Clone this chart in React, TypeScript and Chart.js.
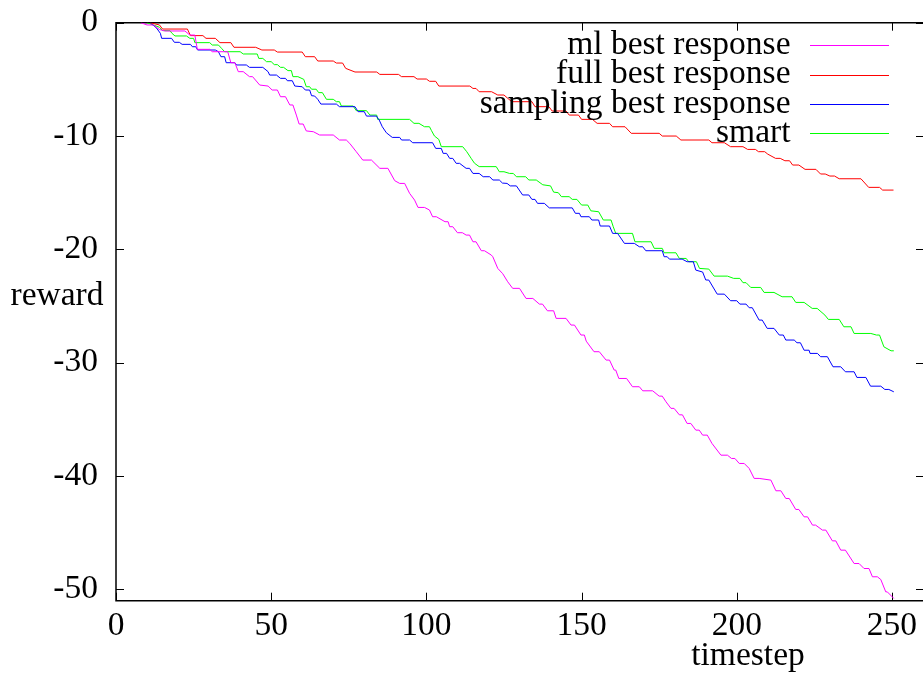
import React, { useEffect, useRef } from "react";
import { Chart, registerables } from "chart.js";
Chart.register(...registerables);

// ---- data ----
const mlX = [8, 10, 12, 14, 15.8, 22.2, 23.8, 25.4, 26.2, 30.2, 31, 36, 37, 38.3, 39.4, 41, 43, 44, 46.3, 49, 50.3, 52, 53, 54.6, 56, 57, 58.1, 59, 60.3, 61.3, 63.6, 65.6, 70, 72, 74.2, 75.3, 77.4, 79.5, 82.3, 85, 87.6, 89.8, 91.4, 93, 94.6, 96.2, 97.3, 99.4, 101, 102, 103.2, 106, 107, 107.5, 108.5, 110, 111.6, 112.8, 113.9, 115, 116, 117.7, 118.7, 120.9, 121.4, 123, 124.6, 126.2, 127.8, 130, 132.1, 134.3, 136.4, 137.4, 139, 141, 141.8, 145, 146.6, 147.7, 149.8, 150.9, 151.5, 154, 155.7, 157.9, 159, 160.5, 161, 162, 164.5, 166.4, 168.6, 169.7, 172.9, 175, 176, 177.2, 178.8, 179.8, 181.5, 182.5, 184, 185.2, 186.8, 187.9, 189, 190.5, 192, 194.9, 197, 198.3, 199.4, 200.8, 202.4, 204, 205.6, 207.2, 211, 212.6, 214.2, 215.8, 216.9, 219, 220, 221.7, 222.8, 224.4, 225.4, 227.6, 228.7, 230.8, 231.9, 233.5, 235, 237.8, 239.4, 241, 242.6, 243.7, 245.3, 246.4, 248, 248.5, 250.6];
const mlY = [0, -0.2, -0.2, -0.6, -0.73, -0.73, -1.09, -1.09, -2.35, -2.35, -2.56, -2.56, -3.53, -3.53, -4.32, -4.32, -4.76, -4.76, -5.5, -5.59, -5.94, -5.94, -6.53, -6.53, -7.26, -7.26, -8.15, -8.94, -8.94, -9.55, -9.62, -9.91, -9.91, -10.35, -10.35, -10.65, -11.38, -12.12, -12.12, -12.85, -12.85, -13.94, -14.18, -14.18, -15.06, -15.65, -16.3, -16.3, -16.53, -17.12, -17.12, -17.56, -17.56, -18.0, -18.0, -18.53, -18.53, -18.74, -18.74, -19.33, -19.33, -20.12, -20.12, -20.5, -20.65, -21.68, -22.15, -22.86, -23.44, -23.44, -24.33, -24.33, -24.83, -24.83, -25.42, -25.42, -26.09, -26.09, -26.68, -26.68, -27.56, -27.56, -28.1, -29.03, -29.03, -29.77, -29.77, -30.65, -30.65, -31.39, -31.39, -32.12, -32.12, -32.48, -32.48, -32.95, -32.95, -33.45, -34.03, -34.03, -34.6, -34.6, -35.36, -35.36, -35.95, -35.95, -36.39, -36.39, -37.12, -38.16, -38.16, -38.45, -38.45, -38.89, -38.89, -39.33, -40.21, -40.21, -40.36, -41.3, -41.3, -41.98, -41.98, -42.95, -42.95, -43.6, -43.6, -44.33, -44.33, -44.77, -44.77, -45.72, -45.72, -46.54, -46.54, -47.72, -47.72, -48.16, -48.16, -48.89, -48.89, -49.13, -50.22, -50.22, -50.8];

const fullX = [11, 14, 15, 23, 24, 28, 29, 32, 33.5, 37, 38, 45, 47, 51, 52, 60, 61, 64, 65, 70, 71, 73, 74, 77, 84, 85, 91, 92, 96, 97, 100, 101, 103, 104, 114, 115, 116, 117, 121, 123, 125, 126, 127.5, 134, 135, 139.5, 140.5, 145, 146, 149, 150, 153.5, 155, 159, 160, 164, 166, 175, 176, 180.5, 182, 191, 192, 196, 198, 202, 203.5, 206, 207, 209, 210, 212.5, 214, 215.5, 217, 218, 220, 222, 225.5, 227, 228.5, 230, 231.5, 233, 240, 242.5, 246, 247, 250.5];
const fullY = [0, -0.2, -0.56, -0.56, -1.14, -1.14, -1.38, -1.38, -1.76, -1.76, -2.17, -2.17, -2.41, -2.41, -2.59, -2.59, -3.0, -3.0, -3.38, -3.38, -3.56, -3.56, -4.03, -4.35, -4.35, -4.56, -4.56, -4.76, -4.76, -4.97, -4.97, -5.17, -5.17, -5.59, -5.59, -5.8, -5.8, -6.09, -6.09, -6.38, -6.38, -6.62, -6.97, -6.97, -7.41, -7.41, -7.79, -7.79, -8.15, -8.15, -8.53, -8.53, -8.88, -8.88, -9.18, -9.18, -9.76, -9.76, -10.0, -10.0, -10.35, -10.35, -10.59, -10.59, -10.94, -10.94, -11.18, -11.18, -11.38, -11.38, -11.6, -11.97, -11.97, -12.18, -12.18, -12.56, -12.56, -12.94, -12.94, -13.35, -13.35, -13.53, -13.53, -13.77, -13.77, -14.53, -14.53, -14.77, -14.77];

const samplingX = [11, 13, 14.3, 14.7, 17.9, 18.8, 20.4, 21.3, 24, 24.6, 25.7, 26.3, 32, 33, 33.8, 35, 35.5, 38.3, 38.8, 42, 43, 47.3, 49, 49.5, 51.7, 53, 54.6, 55.2, 56.8, 57.6, 60, 61, 62.4, 63, 64, 65, 66, 71, 72, 77, 78, 80, 80.7, 83.9, 84.8, 85.8, 87.1, 89, 91.4, 92, 94.6, 95.6, 102, 103, 104.8, 105.4, 106.5, 107.5, 108.5, 109.6, 110.7, 112.8, 113.9, 115, 117, 118.3, 120.4, 121.4, 123.5, 124.5, 126, 127, 129, 131, 133, 134, 135, 135.8, 138, 139.6, 147, 148, 149.3, 149.8, 152.5, 153.3, 155.5, 156, 159, 160, 161.6, 163.8, 167, 168.6, 169.7, 170.7, 176, 176.6, 177.6, 178.3, 182.4, 184, 186, 186.8, 189, 190, 191, 193.7, 196, 198, 200, 201, 203, 204, 205, 207.2, 208.2, 209.8, 212, 213.7, 215, 215.8, 218.5, 219.4, 220.5, 221.7, 223.3, 223.6, 226, 227, 229.2, 231, 233.5, 235, 237.8, 238.7, 241.6, 243.1, 246.4, 247.7, 249, 250.6];
const samplingY = [0, -0.45, -0.94, -1.38, -1.38, -1.73, -1.73, -1.91, -1.91, -2.12, -2.12, -2.41, -2.41, -2.56, -3.0, -3.0, -3.53, -3.53, -3.73, -3.73, -3.94, -3.94, -4.32, -4.62, -4.62, -4.91, -4.91, -5.12, -5.12, -5.59, -5.65, -5.94, -5.94, -6.44, -6.47, -6.76, -7.18, -7.18, -7.41, -7.41, -7.85, -7.85, -8.24, -8.24, -8.59, -9.18, -9.71, -10.12, -10.12, -10.35, -10.35, -10.59, -10.59, -11.09, -11.09, -11.53, -11.53, -11.97, -11.97, -12.41, -12.41, -12.85, -12.85, -13.3, -13.3, -13.59, -13.59, -13.88, -13.88, -14.15, -14.18, -14.4, -14.4, -15.2, -15.2, -15.59, -15.59, -15.94, -15.94, -16.34, -16.34, -16.82, -16.82, -17.12, -17.12, -17.41, -17.41, -17.94, -17.94, -18.59, -18.59, -19.47, -19.47, -19.77, -19.77, -20.12, -20.12, -20.65, -20.65, -20.86, -20.86, -21.09, -21.09, -21.83, -22.0, -22.7, -22.71, -23.95, -23.95, -24.53, -24.53, -24.83, -24.83, -25.15, -25.15, -26.24, -26.24, -26.97, -26.97, -27.56, -27.56, -28.0, -28.0, -28.24, -28.24, -28.9, -28.9, -29.18, -29.18, -29.47, -29.47, -30.36, -30.36, -30.8, -30.8, -31.3, -31.3, -32.07, -32.07, -32.36, -32.36, -32.57];

const smartX = [10, 12, 14, 15, 17.4, 18, 19, 22.7, 23.8, 25, 25.4, 30.2, 31, 33, 34, 35, 40, 41, 45.5, 46, 47.3, 48.5, 50, 51, 52, 53, 54, 55.4, 56.5, 57, 58.6, 60.5, 61.3, 62.4, 63, 64.5, 65.3, 66.5, 67.8, 70, 71, 72, 72.6, 76.4, 77.4, 80.7, 81.8, 84, 84.3, 94.6, 96, 97.6, 99.4, 101, 101.6, 102.6, 104, 104.8, 111.7, 113, 114.5, 115.5, 117, 122.5, 123.5, 125, 126.8, 128, 129, 132, 133, 135.4, 137.5, 140, 141, 142.5, 143.5, 146, 147, 148.5, 150, 152, 153, 155.5, 157, 159.5, 160.2, 161, 166.4, 167.2, 172.4, 173.4, 176, 176.6, 180.4, 181.5, 183.7, 184.5, 187, 188, 191, 192.7, 197, 199, 201, 202, 203, 204.5, 207.7, 208.8, 212, 214.6, 217.8, 219, 221.7, 224.3, 225.9, 228.4, 229.5, 233, 234.5, 236.8, 237.8, 243.2, 245, 246, 247.4, 249.7, 250.6];
const smartY = [0, -0.2, -0.4, -0.7, -0.7, -0.93, -1.17, -1.17, -1.38, -1.38, -1.76, -1.76, -1.97, -1.97, -2.26, -2.56, -2.56, -2.76, -2.76, -3.15, -3.15, -3.44, -3.44, -3.7, -3.7, -3.94, -3.94, -4.23, -4.23, -4.76, -4.76, -5.0, -5.65, -5.65, -5.87, -5.87, -6.17, -6.17, -6.76, -6.76, -6.97, -6.97, -7.35, -7.35, -7.76, -7.76, -8.15, -8.15, -8.53, -8.53, -8.88, -8.88, -9.18, -9.18, -9.5, -10.0, -10.3, -10.94, -10.94, -11.38, -12.0, -12.4, -12.7, -12.7, -13.15, -13.15, -13.3, -13.3, -13.59, -13.59, -13.88, -13.88, -14.3, -14.4, -14.95, -15.0, -15.35, -15.35, -15.59, -15.59, -16.09, -16.09, -16.6, -16.68, -17.41, -17.41, -18.0, -18.59, -18.59, -19.33, -19.33, -19.91, -19.91, -20.3, -20.3, -20.8, -20.8, -21.09, -21.09, -21.68, -21.74, -22.36, -22.36, -22.56, -22.56, -22.94, -22.94, -23.36, -23.36, -23.8, -23.8, -24.18, -24.18, -24.68, -24.68, -25.21, -25.21, -25.8, -26.18, -26.18, -26.83, -26.83, -27.42, -27.42, -27.56, -27.56, -28.6, -28.95, -28.95];

const seriesLabels = ["ml best response", "full best response", "sampling best response", "smart"];
const seriesColors = ["#ff00ff", "#ff0000", "#0000ff", "#00ff00"];
const xTickValues = [0, 50, 100, 150, 200, 250];
const yTickValues = [0, -10, -20, -30, -40, -50];
const xTitle = "timestep";
const yTitle = "reward";

const FONT = "'Liberation Serif', 'Times New Roman', serif";
const FS = 33.5;

const zip = (xs: number[], ys: number[]) => xs.map((x, i) => ({ x, y: ys[i] }));

const framePlugin = {
  id: "gnuplotFrame",
  beforeDatasetsDraw(chart: any) {
    const { ctx, chartArea: a, scales } = chart;
    ctx.save();
    ctx.strokeStyle = "#000";
    ctx.lineWidth = 1.5;
    // frame: left, top, bottom (right side lies at the canvas edge)
    ctx.beginPath();
    ctx.moveTo(a.right + 2, a.top);
    ctx.lineTo(a.left, a.top);
    ctx.lineTo(a.left, a.bottom);
    ctx.lineTo(a.right + 2, a.bottom);
    ctx.stroke();
    ctx.lineWidth = 1;
    const tl = 8;
    ctx.beginPath();
    for (const v of xTickValues) {
      const px = Math.round(scales.x.getPixelForValue(v)) + 0.5;
      ctx.moveTo(px, a.bottom);
      ctx.lineTo(px, a.bottom - tl);
      ctx.moveTo(px, a.top);
      ctx.lineTo(px, a.top + tl);
    }
    for (const v of yTickValues) {
      const py = Math.round(scales.y.getPixelForValue(v)) + 0.5;
      ctx.moveTo(a.left, py);
      ctx.lineTo(a.left + tl, py);
      ctx.moveTo(a.right + 1, py);
      ctx.lineTo(a.right + 1 - tl, py);
    }
    ctx.stroke();
    ctx.restore();
  },
  afterDraw(chart: any) {
    const { ctx } = chart;
    const rows = [45, 74.5, 104, 133.3];
    seriesColors.forEach((col, i) => {
      const y = Math.round(rows[i]) + 0.5;
      ctx.save();
      ctx.strokeStyle = col;
      ctx.lineWidth = 1;
      ctx.beginPath();
      ctx.moveTo(810, y);
      ctx.lineTo(889, y);
      ctx.stroke();
      ctx.restore();
    });
    ctx.save();
    ctx.fillStyle = "#000";
    ctx.font = `${FS}px ${FONT}`;
    ctx.textBaseline = "alphabetic";
    ctx.textAlign = "center";
    ctx.fillText(xTitle, 748, 665);
    ctx.fillText(yTitle, 57, 305);
    ctx.textAlign = "right";
    seriesLabels.forEach((lab, i) => {
      ctx.fillText(lab, 790.5, rows[i] + 8.5);
    });
    ctx.restore();
  },
};

export default function App() {
  const ref = useRef<HTMLCanvasElement | null>(null);
  useEffect(() => {
    if (!ref.current) return;
    const series = [zip(mlX, mlY), zip(fullX, fullY), zip(samplingX, samplingY), zip(smartX, smartY)];
    const chart = new Chart(ref.current, {
      type: "line",
      data: {
        datasets: series.map((d, i) => ({
          label: seriesLabels[i],
          data: d,
          borderColor: seriesColors[i],
          backgroundColor: seriesColors[i],
          borderWidth: 1,
          pointRadius: 0,
          tension: 0,
          fill: false,
        })),
      },
      options: {
        animation: false,
        responsive: false,
        devicePixelRatio: 1,
        layout: { padding: { top: 22.7, right: 0, left: 0, bottom: 0 } },
        plugins: { legend: { display: false }, tooltip: { enabled: false } },
        scales: {
          x: {
            type: "linear",
            min: 0,
            max: 260,
            grid: { display: false, drawTicks: true, tickLength: 5 },
            border: { display: false },
            ticks: {
              stepSize: 50,
              includeBounds: false,
              color: "#000",
              padding: 0,
              maxRotation: 0,
              font: { family: FONT, size: FS },
            },
            afterFit: (s: any) => {
              s.height = 675 - 600.7;
            },
          },
          y: {
            type: "linear",
            min: -51,
            max: 0,
            grid: { display: false, drawTicks: true, tickLength: 18 },
            border: { display: false },
            ticks: {
              stepSize: 10,
              includeBounds: false,
              color: "#000",
              padding: 0,
              font: { family: FONT, size: FS },
            },
            afterFit: (s: any) => {
              s.width = 116;
            },
          },
        },
      },
      plugins: [framePlugin],
    });
    return () => chart.destroy();
  }, []);
  return (
    <div style={{ position: "absolute", left: 0, top: 0, width: 923, height: 675, background: "#fff" }}>
      <canvas ref={ref} width={923} height={675} style={{ width: 923, height: 675 }} />
    </div>
  );
}
